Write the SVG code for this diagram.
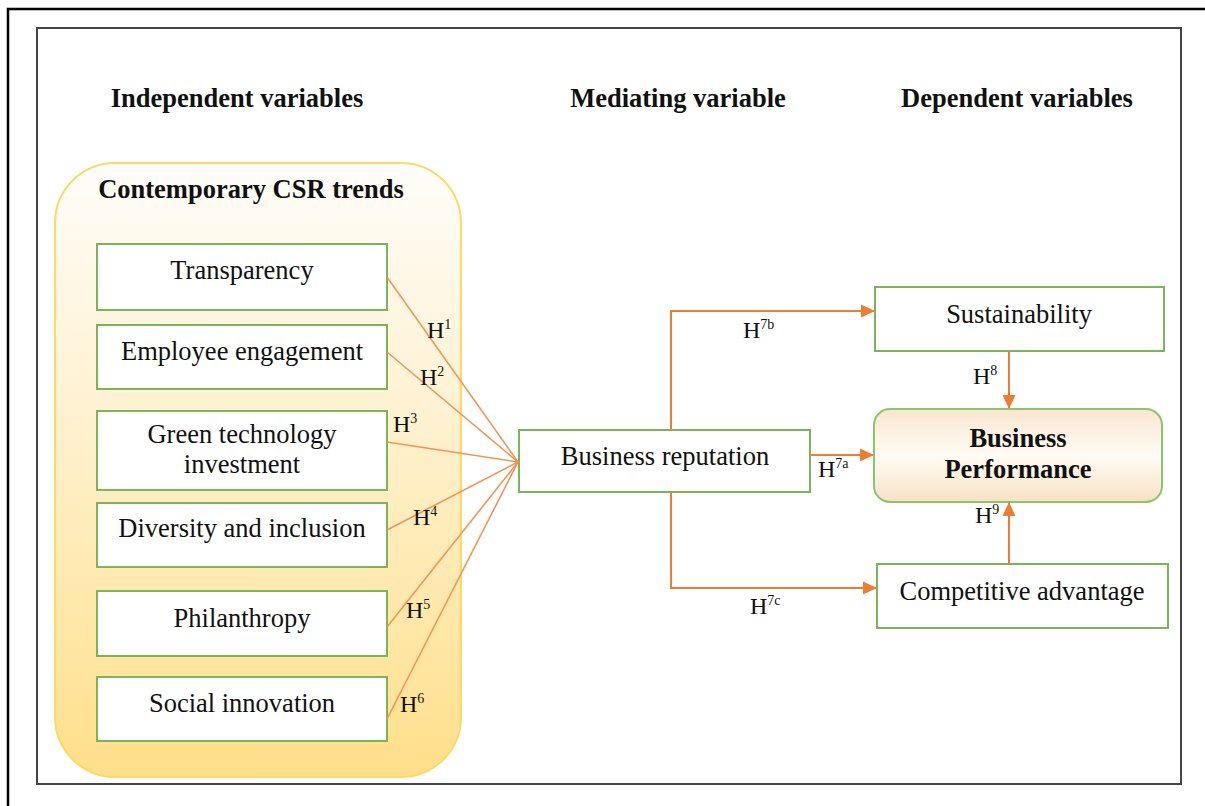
<svg xmlns="http://www.w3.org/2000/svg" width="1205" height="806" viewBox="0 0 1205 806">
  <defs>
    <linearGradient id="csrFill" x1="0" y1="0" x2="0" y2="1">
      <stop offset="0" stop-color="#fffdfa"/>
      <stop offset="0.4" stop-color="#fff2d2"/>
      <stop offset="1" stop-color="#ffdf8a"/>
    </linearGradient>
    <linearGradient id="perfFill" x1="0" y1="0" x2="0" y2="1">
      <stop offset="0" stop-color="#fae6d0"/>
      <stop offset="0.5" stop-color="#fffbf5"/>
      <stop offset="1" stop-color="#f8e1c4"/>
    </linearGradient>
    <marker id="arrow" viewBox="0 0 14 14" refX="13" refY="7" markerWidth="14" markerHeight="14" markerUnits="userSpaceOnUse" orient="auto">
      <path d="M0,0.5 L14,7 L0,13.5 z" fill="#ed7d31"/>
    </marker>
  </defs>
  <style>
    .head { font-family: "Liberation Serif", "Times New Roman", serif; font-weight: bold; font-size: 26.5px; fill: #111; text-anchor: middle; }
    .lbl { font-family: "Liberation Serif", "Times New Roman", serif; font-size: 26.5px; fill: #111; text-anchor: middle; }
    .h { font-family: "Liberation Serif", "Times New Roman", serif; font-size: 24px; fill: #111; }
    .sup { font-size: 14px; }
    .box { fill: #ffffff; stroke: #7ab55a; stroke-width: 2; }
    .conn { fill: none; stroke: #ed7d31; stroke-width: 2; }
    .fan { fill: none; stroke: #f0955a; stroke-width: 1.6; }
  </style>

  <rect width="1205" height="806" fill="#ffffff"/>

  <!-- frames -->
  <path d="M8,806 L8,9 L1205,9" fill="none" stroke="#000" stroke-width="2.5"/>
  <rect x="37" y="28" width="1144" height="756" fill="none" stroke="#444" stroke-width="2"/>

  <!-- column headings -->
  <text class="head" x="237" y="107">Independent variables</text>
  <text class="head" x="678" y="107">Mediating variable</text>
  <text class="head" x="1017" y="107">Dependent variables</text>

  <!-- CSR trends container -->
  <g id="csr-trends">
    <rect x="55" y="163" width="406" height="614" rx="60" ry="60" fill="url(#csrFill)" stroke="#ffd966" stroke-width="2"/>
    <text class="head" x="251" y="198">Contemporary CSR trends</text>
  </g>

  <g id="transparency">
    <rect class="box" x="97" y="244" width="290" height="66"/>
    <text class="lbl" x="242" y="279">Transparency</text>
  </g>
  <g id="employee-engagement">
    <rect class="box" x="97" y="325" width="290" height="64"/>
    <text class="lbl" x="242" y="360">Employee engagement</text>
  </g>
  <g id="green-technology">
    <rect class="box" x="97" y="411" width="290" height="79"/>
    <text class="lbl" x="242" y="443">Green technology</text>
    <text class="lbl" x="242" y="473">investment</text>
  </g>
  <g id="diversity-inclusion">
    <rect class="box" x="97" y="503" width="290" height="64"/>
    <text class="lbl" x="242" y="537">Diversity and inclusion</text>
  </g>
  <g id="philanthropy">
    <rect class="box" x="97" y="591" width="290" height="65"/>
    <text class="lbl" x="242" y="627">Philanthropy</text>
  </g>
  <g id="social-innovation">
    <rect class="box" x="97" y="677" width="290" height="64"/>
    <text class="lbl" x="242" y="712">Social innovation</text>
  </g>

  <g id="business-reputation">
    <rect class="box" x="519" y="430" width="291" height="62"/>
    <text class="lbl" x="665" y="465">Business reputation</text>
  </g>

  <g id="sustainability">
    <rect class="box" x="875" y="287" width="289" height="64"/>
    <text class="lbl" x="1019" y="323">Sustainability</text>
  </g>
  <g id="business-performance">
    <rect x="874" y="409" width="288" height="93" rx="16" ry="16" fill="url(#perfFill)" stroke="#8cc46c" stroke-width="2"/>
    <text class="head" x="1018" y="447">Business</text>
    <text class="head" x="1018" y="478">Performance</text>
  </g>
  <g id="competitive-advantage">
    <rect class="box" x="877" y="564" width="291" height="64"/>
    <text class="lbl" x="1022" y="600">Competitive advantage</text>
  </g>

  <!-- connectors -->
  <g id="connectors">
    <path class="fan" d="M387,277 L518,462"/>
    <path class="fan" d="M387,352 L518,462"/>
    <path class="fan" d="M387,442 L518,462"/>
    <path class="fan" d="M387,530 L518,462"/>
    <path class="fan" d="M387,627 L518,462"/>
    <path class="fan" d="M387,719 L518,462"/>

    <path class="conn" d="M671,430 L671,311 L874,311" marker-end="url(#arrow)"/>
    <path class="conn" d="M810,455 L873,455" marker-end="url(#arrow)"/>
    <path class="conn" d="M671,492 L671,588 L876,588" marker-end="url(#arrow)"/>
    <path class="conn" d="M1009,351 L1009,408" marker-end="url(#arrow)"/>
    <path class="conn" d="M1009,564 L1009,503" marker-end="url(#arrow)"/>

    <!-- hypothesis labels -->
    <text class="h" x="427" y="338">H<tspan class="sup" dy="-9">1</tspan></text>
    <text class="h" x="420" y="385">H<tspan class="sup" dy="-9">2</tspan></text>
    <text class="h" x="393" y="432">H<tspan class="sup" dy="-9">3</tspan></text>
    <text class="h" x="413" y="525">H<tspan class="sup" dy="-9">4</tspan></text>
    <text class="h" x="406" y="618">H<tspan class="sup" dy="-9">5</tspan></text>
    <text class="h" x="400" y="712">H<tspan class="sup" dy="-9">6</tspan></text>
    <text class="h" x="743" y="338">H<tspan class="sup" dy="-9">7b</tspan></text>
    <text class="h" x="818" y="477">H<tspan class="sup" dy="-9">7a</tspan></text>
    <text class="h" x="750" y="614">H<tspan class="sup" dy="-9">7c</tspan></text>
    <text class="h" x="973" y="384">H<tspan class="sup" dy="-9">8</tspan></text>
    <text class="h" x="975" y="523">H<tspan class="sup" dy="-9">9</tspan></text>
  </g>
</svg>
